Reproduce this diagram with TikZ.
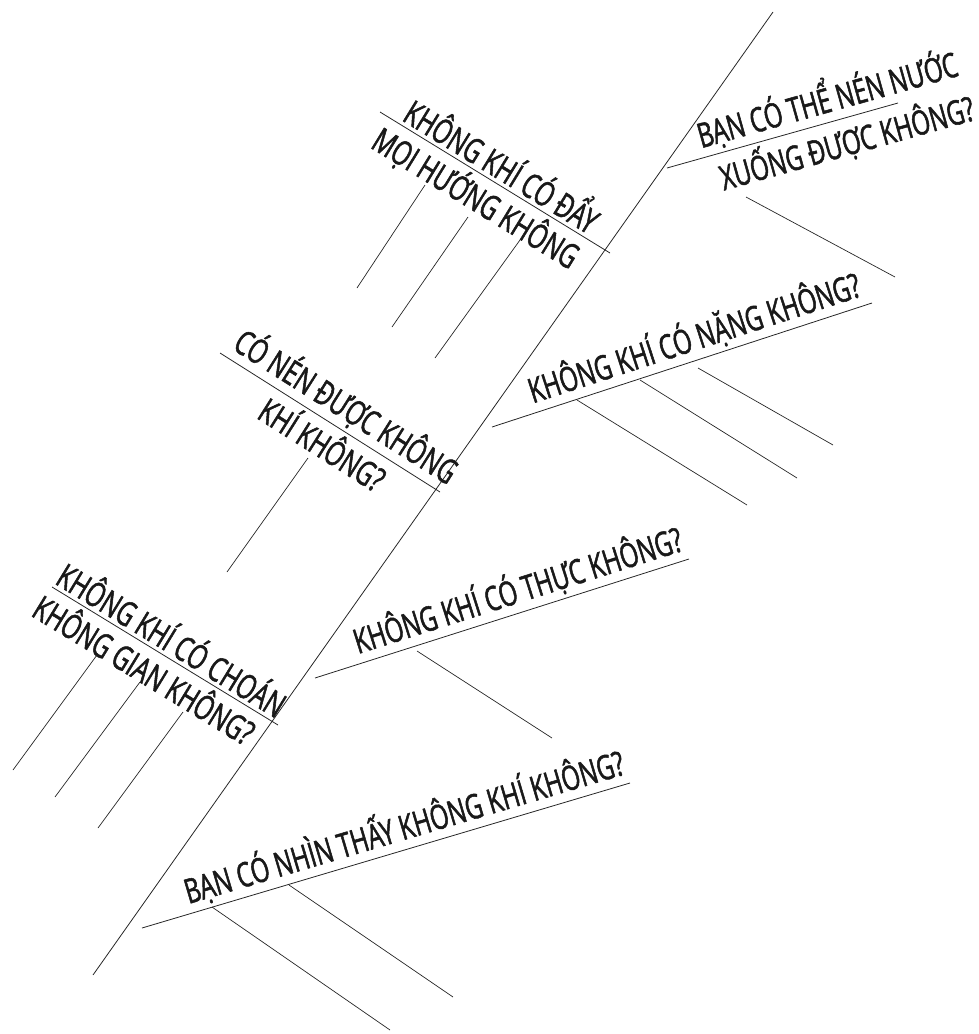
\documentclass[tikz,border=0pt]{standalone}
\usepackage{fontspec}
\newfontfamily\askfont[FakeStretch=0.7, FakeBold=1.5]{Open Sans}
\usetikzlibrary{positioning}
\tikzset{
  bone/.style ={line width=0.8pt, draw=black!85},
  twig/.style ={line width=0.7pt, draw=black!85},
  ask/.style  ={font=\askfont\fontsize{34}{36}\selectfont, text=black!90, inner sep=3.5pt, sloped},
}

\begin{document}
\begin{tikzpicture}[x=1pt, y=-1pt]
  \useasboundingbox (0,0) rectangle (979,1034);
  % spine
  \coordinate (tail) at (93,975);
  \coordinate (head) at (773,12);
  \draw[bone] (tail) -- (head);

  % right side questions
  \coordinate (nuocA) at (667,168);  \coordinate (nuocB) at (898,103);
  \draw[bone] (nuocA) -- node[ask, above, pos=.72] (nuocUp) {BẠN CÓ THỂ NÉN NƯỚC}
                        node[ask, below, pos=.75] (nuocDn) {XUỐNG ĐƯỢC KHÔNG?} (nuocB);
  \coordinate (nangA) at (492,427);  \coordinate (nangB) at (872,303);
  \draw[bone] (nangA) -- node[ask, above, pos=.55] (nang) {KHÔNG KHÍ CÓ NẶNG KHÔNG?} (nangB);
  \coordinate (thucA) at (315,678);  \coordinate (thucB) at (689,559);
  \draw[bone] (thucA) -- node[ask, above, pos=.56] (thuc) {KHÔNG KHÍ CÓ THỰC KHÔNG?} (thucB);
  \coordinate (thayA) at (142,928);  \coordinate (thayB) at (630,783);
  \draw[bone] (thayA) -- node[ask, above, pos=.55] (thay) {BẠN CÓ NHÌN THẤY KHÔNG KHÍ KHÔNG?} (thayB);

  % left side questions
  \coordinate (dayA) at (380,112);   \coordinate (dayB) at (610,253);
  \draw[bone] (dayA) -- node[ask, above, pos=.49] (dayUp) {KHÔNG KHÍ CÓ ĐẨY}
                       node[ask, below, pos=.47] (dayDn) {MỌI HƯỚNG KHÔNG} (dayB);
  \coordinate (nenA) at (220,353);   \coordinate (nenB) at (440,492);
  \draw[bone] (nenA) -- node[ask, above, pos=.52] (nenUp) {CÓ NÉN ĐƯỢC KHÔNG}
                       node[ask, below, pos=.52] (nenDn) {KHÍ KHÔNG?} (nenB);
  \coordinate (choanA) at (52,587);  \coordinate (choanB) at (278,725);
  \draw[bone] (choanA) -- node[ask, above, pos=.49] (choanUp) {KHÔNG KHÍ CÓ CHOÁN}
                         node[ask, below, pos=.46] (choanDn) {KHÔNG GIAN KHÔNG?} (choanB);

  % empty answer lines
  \foreach \ax/\ay/\bx/\by in {746/197/895/277,
      577/400/747/505, 640/380/797/478, 698/368/833/445,
      417/651/552/738,
      212/907/390/1030, 289/885/453/997,
      357/288/425/185, 392/327/468/217, 435/358/520/240,
      227/572/308/458,
      13/770/97/655, 55/797/140/682, 98/828/183/712}
    \draw[twig] (\ax,\ay) -- (\bx,\by);
\end{tikzpicture}
\end{document}
